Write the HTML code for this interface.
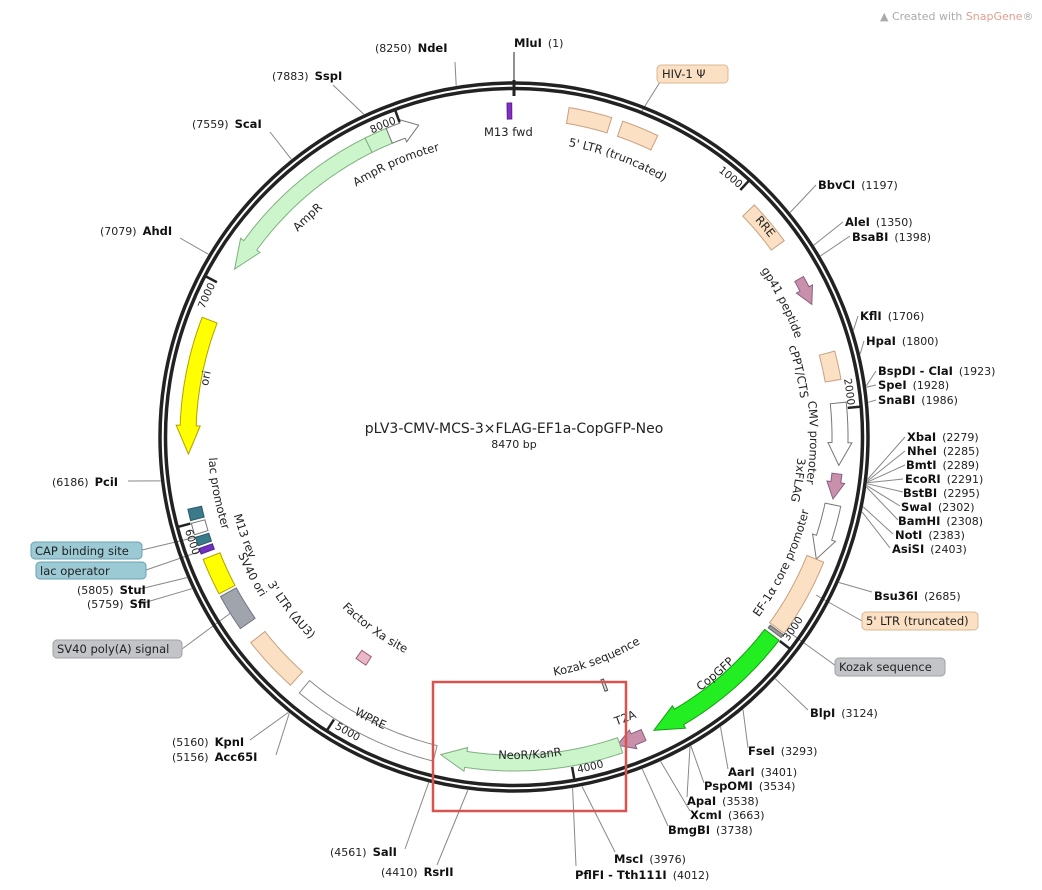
<!DOCTYPE html>
<html><head><meta charset="utf-8"><style>
html,body{margin:0;padding:0;background:#fff;width:1042px;height:890px;overflow:hidden}
svg{display:block;font-family:"DejaVu Sans","Liberation Sans",sans-serif}
.n{font-size:11px;fill:#222}
.b{font-weight:bold;font-size:11.5px;fill:#111}
.f{font-size:11.5px;fill:#222}
.t{font-size:10.5px;fill:#222}
</style></head><body>
<svg id="s" width="1042" height="890" viewBox="0 0 1042 890">
<defs>
<path id="cw296" d="M514,141 A296,296 0 1 1 514,733 A296,296 0 1 1 514,141"/>
<path id="cw298" d="M514,139 A298,298 0 1 1 514,735 A298,298 0 1 1 514,139"/>
<path id="cw289" d="M514,148 A289,289 0 1 1 514,726 A289,289 0 1 1 514,148"/>
<path id="cw284" d="M514,153 A284,284 0 1 1 514,721 A284,284 0 1 1 514,153"/>
<path id="cw324" d="M514,113 A324,324 0 1 1 514,761 A324,324 0 1 1 514,113"/>
<path id="cw310" d="M514,127 A310,310 0 1 1 514,747 A310,310 0 1 1 514,127"/>
<path id="cw335" d="M514,102 A335,335 0 1 1 514,772 A335,335 0 1 1 514,102"/>
<path id="cc304" d="M514,133 A304,304 0 1 0 514,741 A304,304 0 1 0 514,133"/>
<path id="cc315" d="M514,122 A315,315 0 1 0 514,752 A315,315 0 1 0 514,122"/>
<path id="cc242" d="M514,195 A242,242 0 1 0 514,679 A242,242 0 1 0 514,195"/>
<path id="cc306" d="M514,131 A306,306 0 1 0 514,743 A306,306 0 1 0 514,131"/>
<path id="cc322" d="M514,115 A322,322 0 1 0 514,759 A322,322 0 1 0 514,115"/>
<path id="cc320" d="M514,117 A320,320 0 1 0 514,757 A320,320 0 1 0 514,117"/>
<path id="cc287" d="M514,150 A287,287 0 1 0 514,724 A287,287 0 1 0 514,150"/>
<path id="cc291" d="M514,146 A291,291 0 1 0 514,728 A291,291 0 1 0 514,146"/>
<path id="cc300" d="M514,137 A300,300 0 1 0 514,737 A300,300 0 1 0 514,137"/>
<path id="cc342" d="M514,95 A342,342 0 1 0 514,779 A342,342 0 1 0 514,95"/>
</defs>
<g id="lines" stroke="#888" stroke-width="1" fill="none"></g>
<circle cx="514" cy="437" r="354" fill="none" stroke="#222" stroke-width="3.5"/>
<circle cx="514" cy="437" r="348.5" fill="none" stroke="#222" stroke-width="3.5"/>
<g id="feat"></g>
<line x1="514" y1="52" x2="514" y2="95" stroke="#222" stroke-width="1"/>
<line x1="514" y1="80" x2="514" y2="96" stroke="#222" stroke-width="3"/>

<text x="514" y="433" text-anchor="middle" style="font-size:14px;fill:#222">pLV3-CMV-MCS-3×FLAG-EF1a-CopGFP-Neo</text>
<text x="514" y="448" text-anchor="middle" class="n">8470 bp</text>
<text x="880" y="20" style="font-size:11px;fill:#aaa">▲ Created with <tspan fill="#e0a090">SnapGene</tspan>®</text>

<text x="484" y="136" class="f">M13 fwd</text>
<text class="f"><textPath href="#cw296" startOffset="5.7%" text-anchor="middle">5' LTR (truncated)</textPath></text>
<text class="f"><textPath href="#cw296" startOffset="93.5%" text-anchor="middle">AmpR promoter</textPath></text>
<text class="f"><textPath href="#cw298" startOffset="88%" text-anchor="middle">AmpR</textPath></text>
<text class="f"><textPath href="#cw324" startOffset="13.9%" text-anchor="middle">RRE</textPath></text>
<text class="f"><textPath href="#cw298" startOffset="17.6%" text-anchor="middle">gp41 peptide</textPath></text>
<text class="f"><textPath href="#cw289" startOffset="21.4%" text-anchor="middle">cPPT/CTS</textPath></text>
<text class="f"><textPath href="#cw296" startOffset="25.3%" text-anchor="middle">CMV promoter</textPath></text>
<text class="f"><textPath href="#cw284" startOffset="27.4%" text-anchor="middle">3xFLAG</textPath></text>
<text class="f"><textPath href="#cw310" startOffset="78%" text-anchor="middle">ori</textPath></text>
<text class="f"><textPath href="#cc304" startOffset="68%" text-anchor="middle">EF-1α core promoter</textPath></text>
<text class="f"><textPath href="#cc315" startOffset="61.2%" text-anchor="middle">CopGFP</textPath></text>
<text class="f"><textPath href="#cc242" startOffset="55.7%" text-anchor="middle">Kozak sequence</textPath></text>
<text class="f"><textPath href="#cc306" startOffset="56%" text-anchor="middle">T2A</textPath></text>
<text class="f"><textPath href="#cc322" startOffset="50.8%" text-anchor="middle">NeoR/KanR</textPath></text>
<text class="f"><textPath href="#cc320" startOffset="42.5%" text-anchor="middle">WPRE</textPath></text>
<text class="f"><textPath href="#cc242" startOffset="40%" text-anchor="middle">Factor Xa site</textPath></text>
<text class="f"><textPath href="#cc287" startOffset="35.5%" text-anchor="middle">3' LTR (ΔU3)</textPath></text>
<text class="f"><textPath href="#cc300" startOffset="32.7%" text-anchor="middle">SV40 ori</textPath></text>
<text class="f"><textPath href="#cc291" startOffset="30.6%" text-anchor="middle">M13 rev</textPath></text>
<text class="f"><textPath href="#cc306" startOffset="28%" text-anchor="middle">lac promoter</textPath></text>

<text class="t"><textPath href="#cw335" startOffset="11.7%" text-anchor="end">1000</textPath></text>
<text class="t"><textPath href="#cw335" startOffset="23.5%" text-anchor="end">2000</textPath></text>
<text class="t"><textPath href="#cw335" startOffset="82.5%" text-anchor="end">7000</textPath></text>
<text class="t"><textPath href="#cw335" startOffset="94.3%" text-anchor="end">8000</textPath></text>
<text class="t"><textPath href="#cc342" startOffset="64.8%" text-anchor="start">3000</textPath></text>
<text class="t"><textPath href="#cc342" startOffset="53%" text-anchor="start">4000</textPath></text>
<text class="t"><textPath href="#cc342" startOffset="41.2%" text-anchor="start">5000</textPath></text>
<text class="t"><textPath href="#cc342" startOffset="29.4%" text-anchor="start">6000</textPath></text>

<rect x="657" y="65" width="71" height="18" rx="4" fill="#fbe0c4" stroke="#d8b890"/>
<text x="662" y="78" class="f">HIV-1 Ψ</text>
<rect x="31" y="542" width="111" height="17" rx="4" fill="#9ccad4" stroke="#6aa0b0"/>
<text x="35" y="555" class="f">CAP binding site</text>
<rect x="36" y="562" width="110" height="17" rx="4" fill="#9ccad4" stroke="#6aa0b0"/>
<text x="40" y="575" class="f">lac operator</text>
<rect x="53" y="640" width="129" height="18" rx="4" fill="#c2c4c8" stroke="#a0a2a8"/>
<text x="57" y="653" class="f">SV40 poly(A) signal</text>
<rect x="835" y="658" width="110" height="18" rx="4" fill="#c2c4c8" stroke="#a0a2a8"/>
<text x="839" y="671" class="f">Kozak sequence</text>
<rect x="862" y="612" width="116" height="18" rx="4" fill="#fbe0c4" stroke="#d8b890"/>
<text x="866" y="625" class="f">5' LTR (truncated)</text>

<g class="n">
<text x="375" y="52"><tspan class="n">(8250)</tspan><tspan class="b" dx="6">NdeI</tspan></text>
<text x="514" y="47"><tspan class="b">MluI</tspan><tspan class="n" dx="6">(1)</tspan></text>
<text x="272" y="80"><tspan class="n">(7883)</tspan><tspan class="b" dx="6">SspI</tspan></text>
<text x="192" y="128"><tspan class="n">(7559)</tspan><tspan class="b" dx="6">ScaI</tspan></text>
<text x="100" y="235"><tspan class="n">(7079)</tspan><tspan class="b" dx="6">AhdI</tspan></text>
<text x="52" y="486"><tspan class="n">(6186)</tspan><tspan class="b" dx="6">PciI</tspan></text>
<text x="77" y="594"><tspan class="n">(5805)</tspan><tspan class="b" dx="6">StuI</tspan></text>
<text x="87" y="608"><tspan class="n">(5759)</tspan><tspan class="b" dx="6">SfiI</tspan></text>
<text x="172" y="746"><tspan class="n">(5160)</tspan><tspan class="b" dx="6">KpnI</tspan></text>
<text x="172" y="761"><tspan class="n">(5156)</tspan><tspan class="b" dx="6">Acc65I</tspan></text>
<text x="330" y="856"><tspan class="n">(4561)</tspan><tspan class="b" dx="6">SalI</tspan></text>
<text x="381" y="876"><tspan class="n">(4410)</tspan><tspan class="b" dx="6">RsrII</tspan></text>
</g>
<g>
<text x="614" y="863"><tspan class="b">MscI</tspan><tspan class="n" dx="6">(3976)</tspan></text>
<text x="575" y="879"><tspan class="b">PflFI - Tth111I</tspan><tspan class="n" dx="6">(4012)</tspan></text>
<text x="668" y="834"><tspan class="b">BmgBI</tspan><tspan class="n" dx="6">(3738)</tspan></text>
<text x="690" y="819"><tspan class="b">XcmI</tspan><tspan class="n" dx="6">(3663)</tspan></text>
<text x="687" y="805"><tspan class="b">ApaI</tspan><tspan class="n" dx="6">(3538)</tspan></text>
<text x="704" y="790"><tspan class="b">PspOMI</tspan><tspan class="n" dx="6">(3534)</tspan></text>
<text x="728" y="776"><tspan class="b">AarI</tspan><tspan class="n" dx="6">(3401)</tspan></text>
<text x="748" y="755"><tspan class="b">FseI</tspan><tspan class="n" dx="6">(3293)</tspan></text>
<text x="810" y="717"><tspan class="b">BlpI</tspan><tspan class="n" dx="6">(3124)</tspan></text>
<text x="874" y="600"><tspan class="b">Bsu36I</tspan><tspan class="n" dx="6">(2685)</tspan></text>
<text x="892" y="553"><tspan class="b">AsiSI</tspan><tspan class="n" dx="6">(2403)</tspan></text>
<text x="895" y="539"><tspan class="b">NotI</tspan><tspan class="n" dx="6">(2383)</tspan></text>
<text x="898" y="525"><tspan class="b">BamHI</tspan><tspan class="n" dx="6">(2308)</tspan></text>
<text x="901" y="511"><tspan class="b">SwaI</tspan><tspan class="n" dx="6">(2302)</tspan></text>
<text x="903" y="497"><tspan class="b">BstBI</tspan><tspan class="n" dx="6">(2295)</tspan></text>
<text x="905" y="483"><tspan class="b">EcoRI</tspan><tspan class="n" dx="6">(2291)</tspan></text>
<text x="906" y="469"><tspan class="b">BmtI</tspan><tspan class="n" dx="6">(2289)</tspan></text>
<text x="907" y="455"><tspan class="b">NheI</tspan><tspan class="n" dx="6">(2285)</tspan></text>
<text x="907" y="441"><tspan class="b">XbaI</tspan><tspan class="n" dx="6">(2279)</tspan></text>
<text x="878" y="404"><tspan class="b">SnaBI</tspan><tspan class="n" dx="6">(1986)</tspan></text>
<text x="878" y="389"><tspan class="b">SpeI</tspan><tspan class="n" dx="6">(1928)</tspan></text>
<text x="878" y="375"><tspan class="b">BspDI - ClaI</tspan><tspan class="n" dx="6">(1923)</tspan></text>
<text x="866" y="345"><tspan class="b">HpaI</tspan><tspan class="n" dx="6">(1800)</tspan></text>
<text x="860" y="320"><tspan class="b">KflI</tspan><tspan class="n" dx="6">(1706)</tspan></text>
<text x="852" y="241"><tspan class="b">BsaBI</tspan><tspan class="n" dx="6">(1398)</tspan></text>
<text x="845" y="226"><tspan class="b">AleI</tspan><tspan class="n" dx="6">(1350)</tspan></text>
<text x="818" y="189"><tspan class="b">BbvCI</tspan><tspan class="n" dx="6">(1197)</tspan></text>
</g>
<rect x="433" y="682" width="193" height="129" fill="none" stroke="#d9534f" stroke-width="2.5"/>
</svg>
<script>
(function(){
var NS="http://www.w3.org/2000/svg",cx=514,cy=437,TOT=8470;
function P(a,r){var t=a*Math.PI/180;return [cx+r*Math.sin(t),cy-r*Math.cos(t)];}
function el(g,tag,at){var e=document.createElementNS(NS,tag);for(var k in at)e.setAttribute(k,at[k]);document.getElementById(g).appendChild(e);return e;}
function arcPts(a1,a2,r,n){var p=[];for(var i=0;i<=n;i++){p.push(P(a1+(a2-a1)*i/n,r));}return p;}
function feat(a1,a2,r1,r2,fill,stroke,dir,hd){
  hd=hd||4;var pts=[],n=40,ex=4,rm=(r1+r2)/2;
  if(dir==0){pts=arcPts(a1,a2,r2,n).concat(arcPts(a2,a1,r1,n));}
  else if(dir==1){var b=a2-hd;pts=arcPts(a1,b,r2,n);pts.push(P(b,r2+ex));pts.push(P(a2,rm));pts.push(P(b,r1-ex));pts=pts.concat(arcPts(b,a1,r1,n));}
  else {var b=a1+hd;pts=[P(a1,rm),P(b,r2+ex)].concat(arcPts(b,a2,r2,n)).concat(arcPts(a2,b,r1,n));pts.push(P(b,r1-ex));}
  el("feat","polygon",{points:pts.map(function(p){return p[0].toFixed(1)+","+p[1].toFixed(1)}).join(" "),fill:fill,stroke:stroke,"stroke-width":1});
}
var peach="#fbe0c4",ps="#c8a080",lg="#ccf5cc",lgs="#80b080",pink="#c890aa",pks="#8a6080",wh="#fff",ws="#777";
feat(9.5,17,318,334,peach,ps,0);
feat(19,25.5,318,334,peach,ps,0);
feat(46,54,318,334,peach,ps,0);
feat(61,66,321,331,pink,pks,1,3);
feat(75,80,316,332,peach,ps,0);
feat(84,95,318,334,wh,ws,1,4);
feat(96.5,101,320,330,pink,pks,1,3);
feat(102,112,318,334,wh,ws,1,4);
feat(112,126,316,334,peach,ps,0);
feat(126.3,126.9,318,334,"#999","#666",0);
feat(127.5,154.5,316,334,"#22ee22","#10a010",1,5);
feat(156.5,161.5,319,331,pink,pks,1,3);
feat(161,193,318,334,lg,lgs,1,4.5);
feat(194,220,318,334,wh,"#888",0);
feat(222,232,316,334,peach,ps,0);
feat(235,241.5,316,334,"#a0a4ac","#707480",0);
feat(242,248.5,316,334,"#ffff00","#b0a000",0);
feat(249.5,250.5,320,334,"#7030c0","#502090",0);
feat(251,252.5,320,334,"#3a7a8a","#2a5a6a",0);
feat(253,255,320,334,"#fff","#777",0);
feat(255.5,257.5,320,334,"#3a7a8a","#2a5a6a",0);
feat(267,291,318,334,"#ffff00","#b0a000",-1,5);
feat(301,333.5,318,334,lg,lgs,-1,5);
feat(333.5,337.5,318,334,lg,lgs,0);
feat(337.5,343,318,334,wh,ws,1,3);
feat(358.8,359.6,318,334,"#8030c0","#602090",0);
feat(159.7,160.3,258,270,"#ddd","#555",0);
feat(213,215.5,262,272,"#e8b8c8","#a06070",0);
for(var k=1;k<=8;k++){var a=k*1000/TOT*360;var p1=P(a,347),p2=P(a,335);el("feat","line",{x1:p1[0],y1:p1[1],x2:p2[0],y2:p2[1],stroke:"#222","stroke-width":2.5});}
var E=[[8250,455,62],[7883,333,85],[7559,270,132],[7079,180,238],[6186,128,481],[5805,140,589],[5759,140,604],[5160,250,740],[5156,276,755],[4561,405,849],[4410,437,865],[3976,615,852],[4012,576,866],[3738,668,826],[3663,690,811],[3538,687,797],[3534,704,783],[3401,728,769],[3293,748,748],[3124,808,710],[2685,872,592],[2403,890,548],[2383,893,534],[2308,898,520],[2302,900,506],[2295,903,492],[2291,903,479],[2289,905,465],[2285,905,451],[2279,905,437],[1986,876,400],[1928,876,385],[1923,876,371],[1800,864,341],[1706,858,316],[1398,850,236],[1350,843,222],[1197,816,185]];
E.forEach(function(e){var p=P(e[0]/TOT*360,356);el("lines","line",{x1:p[0].toFixed(1),y1:p[1].toFixed(1),x2:e[1],y2:e[2]});});
[[142,550,205,535],[146,570,207,549],[182,649,232,612],[836,666,775,622],[862,621,816,595],[660,82,640,114]].forEach(function(l){el("lines","line",{x1:l[0],y1:l[1],x2:l[2],y2:l[3]});});
})();
</script>
</body></html>
